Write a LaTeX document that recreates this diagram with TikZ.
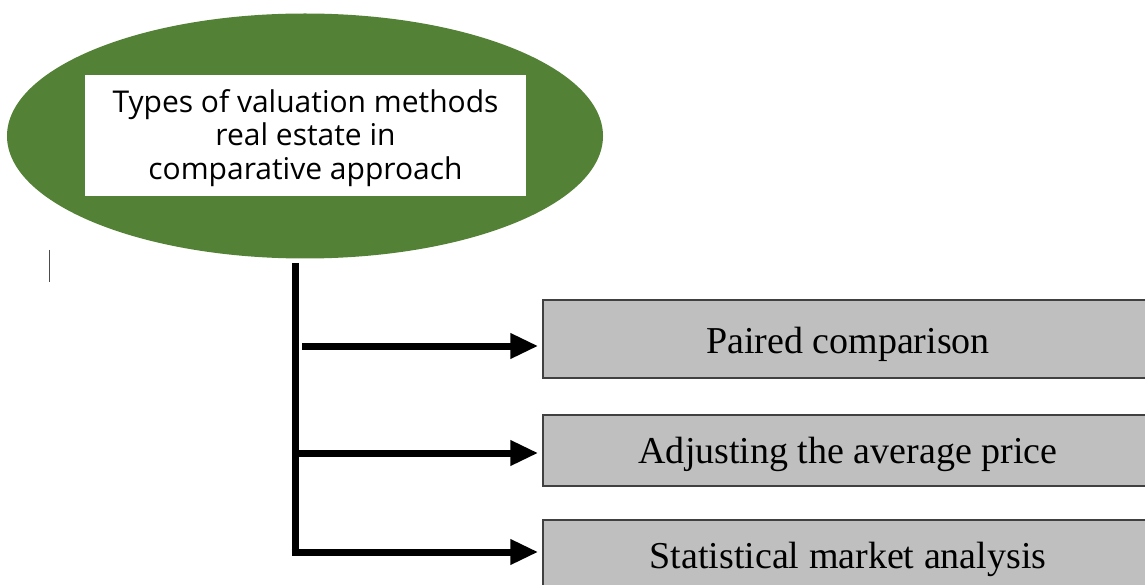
\documentclass[tikz,border=0pt]{standalone}
\usepackage{fontspec}
\setmainfont{Liberation Serif}
\newfontfamily\headfont{Open Sans}
\usetikzlibrary{arrows.meta,shapes.geometric}
\definecolor{leafgreen}{HTML}{538135}
\definecolor{boxgray}{HTML}{BFBFBF}
\definecolor{edgegray}{HTML}{404040}
\tikzset{
  x=1pt, y=-1pt,
  methodbox/.style={draw=edgegray, line width=1.5pt, fill=boxgray,
    minimum width=610pt, inner sep=0pt, font=\fontsize{38}{44}\selectfont},
  branch/.style={line width=7pt, -{Triangle[length=28pt,width=24pt]}, shorten >=4pt},
}
% lower the ink of a box without changing its size
\newcommand{\lowered}[2]{\raisebox{-#1}[\height][\depth]{#2}}
\begin{document}
\begin{tikzpicture}
\useasboundingbox (0,0) rectangle (1145,585);
% heading: green ellipse with a white caption box
\node[ellipse, fill=leafgreen, minimum width=596pt, minimum height=245pt, inner sep=0pt]
  (head) at (305,136) {};
\node[fill=white, minimum width=441pt, minimum height=121pt, inner sep=0pt,
  font=\headfont\fontsize{30}{33.5}\selectfont]
  (caption) at (305.5,135.5)
  {\lowered{3.5pt}{\begin{tabular}{@{}c@{}}Types of valuation methods\\real estate in\\comparative approach\end{tabular}}};
% stray thin mark at the left
\draw[line width=1pt, black!70] (49,250) -- (49,282);
% method boxes
\node[methodbox, minimum height=78pt] (b1) at (848,339) {\lowered{5pt}{Paired comparison}};
\node[methodbox, minimum height=71pt] (b2) at (848,450.5) {\lowered{4pt}{Adjusting the average price}};
\node[methodbox, minimum height=72pt] (b3) at (848,556) {\lowered{3pt}{Statistical market analysis}};
% trunk and branches
\coordinate (top) at (295,263);
\coordinate (bot) at (295,555);
\draw[line width=7pt] (top) -- (bot);
\draw[branch] (302,346) -- (b1.west |- 0,346);
\draw[branch] (bot |- 0,453) -- (b2.west |- 0,453);
\draw[branch] ([xshift=-3.5pt]bot |- 0,552) -- (b3.west |- 0,552);
\end{tikzpicture}
\end{document}
